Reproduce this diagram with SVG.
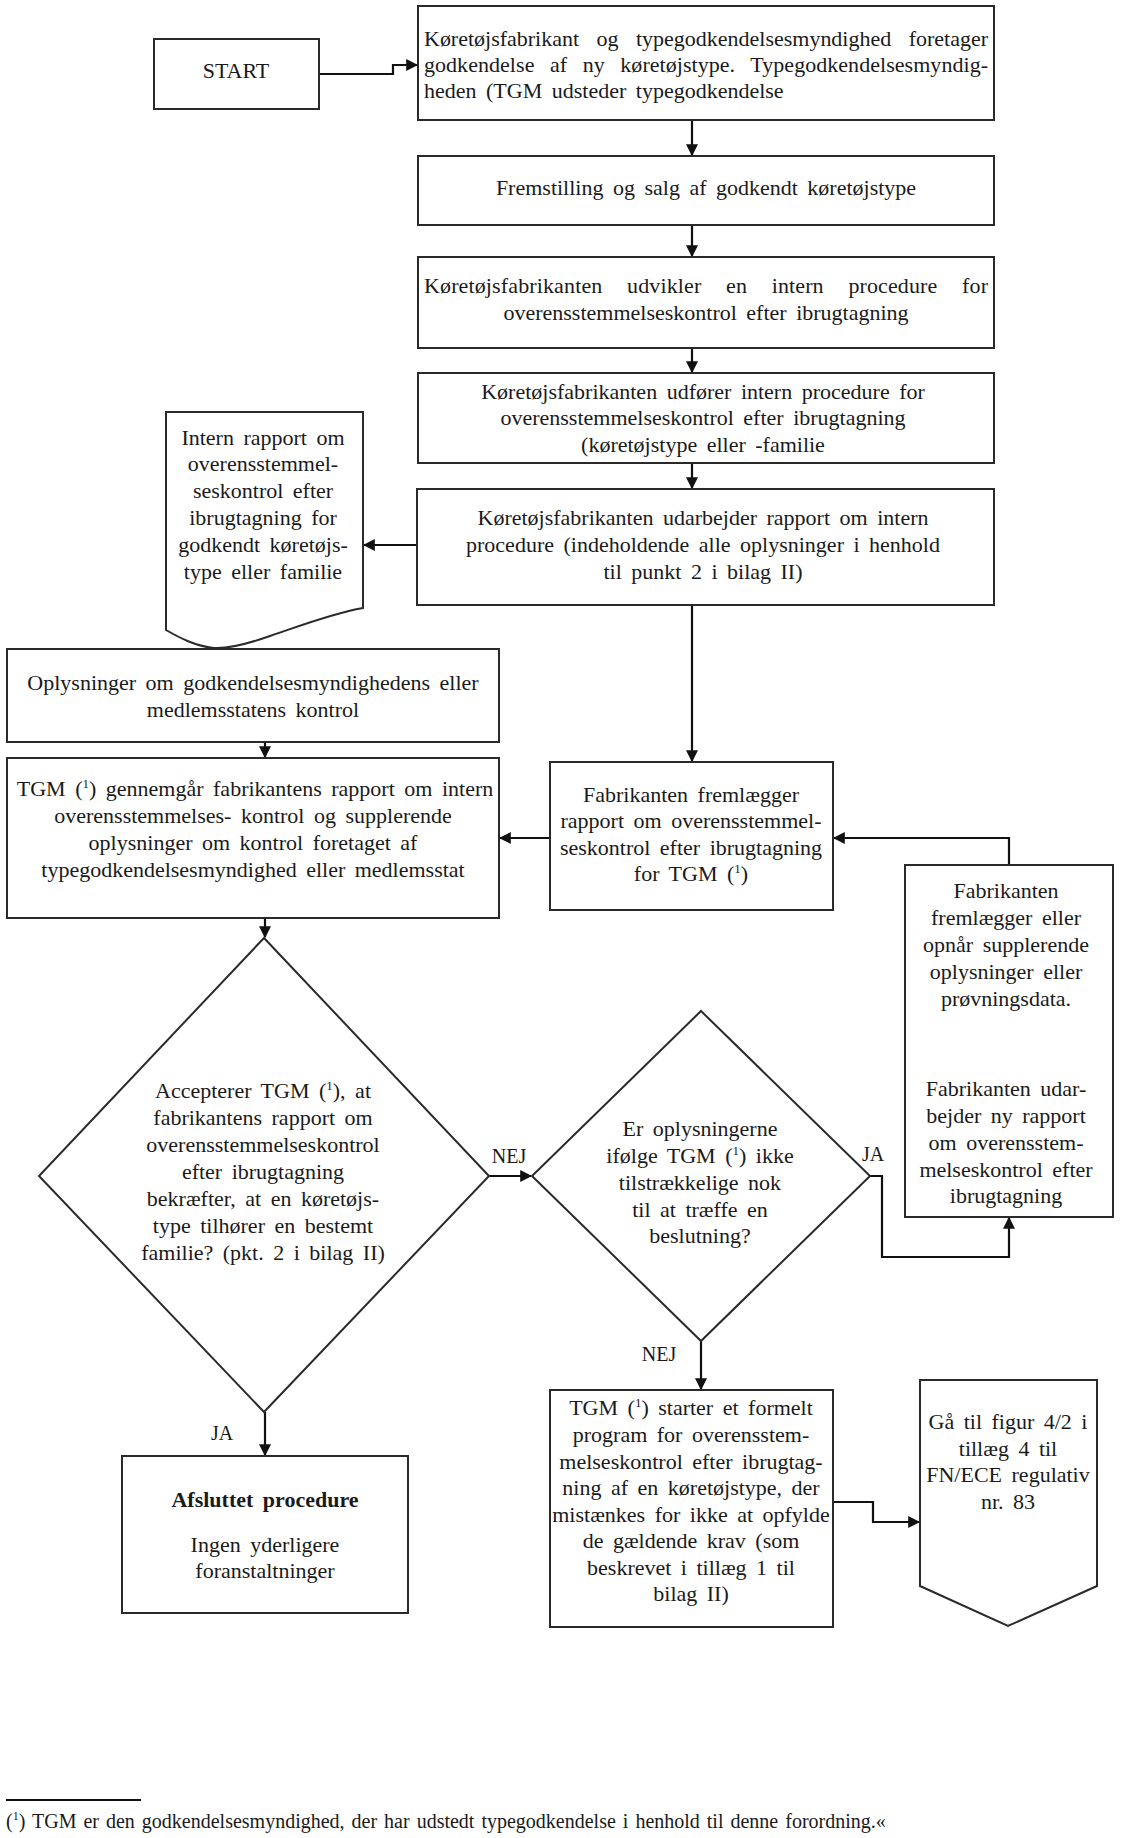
<svg xmlns="http://www.w3.org/2000/svg" width="1123" height="1838" viewBox="0 0 1123 1838">
<style>
  .box { fill: #ffffff; stroke: #2a2a2a; stroke-width: 2; }
  .t { font-family: "Liberation Serif", "Times New Roman", serif; font-size: 22px; fill: #1a1a1a; word-spacing: 4px; }
  .c { text-anchor: middle; }
  .lbl { font-family: "Liberation Serif", "Times New Roman", serif; font-size: 20px; fill: #1a1a1a; text-anchor: middle; }
  .b { font-weight: bold; }
  .conn { fill: none; stroke: #111; stroke-width: 2.2; marker-end: url(#ah); }
  .sup { font-size: 13px; }
</style>
<defs>
  <marker id="ah" viewBox="0 0 10 10" refX="9" refY="5" markerWidth="12" markerHeight="12" markerUnits="userSpaceOnUse" orient="auto">
    <path d="M0,0 L10,5 L0,10 z" fill="#111"/>
  </marker>
</defs>
<rect width="1123" height="1838" fill="#ffffff"/>

<g id="connectors">
  <path class="conn" d="M319,74 H393 V65 H417"/>
  <path class="conn" d="M692,120 V155"/>
  <path class="conn" d="M692,225 V256"/>
  <path class="conn" d="M692,348 V372"/>
  <path class="conn" d="M692,463 V488"/>
  <path class="conn" d="M417,545 H364"/>
  <path class="conn" d="M692,605 V761"/>
  <path class="conn" d="M550,838 H500"/>
  <path class="conn" d="M265,742 V757"/>
  <path class="conn" d="M1009,864 V838 H834"/>
  <path class="conn" d="M265,918 V937"/>
  <path class="conn" d="M489,1176 H531"/>
  <path class="conn" d="M870,1176 H882 V1257 H1009 V1218"/>
  <path class="conn" d="M701,1341 V1389"/>
  <path class="conn" d="M265,1412 V1455"/>
  <path class="conn" d="M833,1502 H873 V1522 H919"/>
</g>

<g id="start">
  <rect class="box" x="154" y="39" width="165" height="70"/>
  <text class="t c" x="236" y="78">START</text>
</g>

<g id="approval">
  <rect class="box" x="418" y="6" width="576" height="114"/>
  <text class="t" style="word-spacing:12px" x="424" y="46" textLength="564" lengthAdjust="spacing">Køretøjsfabrikant og typegodkendelsesmyndighed foretager</text>
  <text class="t" style="word-spacing:10px" x="424" y="72" textLength="564" lengthAdjust="spacing">godkendelse af ny køretøjstype. Typegodkendelsesmyndig-</text>
  <text class="t" x="424" y="98">heden (TGM udsteder typegodkendelse</text>
</g>

<g id="production">
  <rect class="box" x="418" y="156" width="576" height="69"/>
  <text class="t c" x="706" y="195">Fremstilling og salg af godkendt køretøjstype</text>
</g>

<g id="develop">
  <rect class="box" x="418" y="257" width="576" height="91"/>
  <text class="t" style="word-spacing:19px" x="424" y="293" textLength="564" lengthAdjust="spacing">Køretøjsfabrikanten udvikler en intern procedure for</text>
  <text class="t c" x="706" y="320">overensstemmelseskontrol efter ibrugtagning</text>
</g>

<g id="perform">
  <rect class="box" x="418" y="373" width="576" height="90"/>
  <text class="t c" x="703" y="399">Køretøjsfabrikanten udfører intern procedure for</text>
  <text class="t c" x="703" y="425">overensstemmelseskontrol efter ibrugtagning</text>
  <text class="t c" x="703" y="452">(køretøjstype eller -familie</text>
</g>

<g id="report">
  <rect class="box" x="417" y="489" width="577" height="116"/>
  <text class="t c" x="703" y="525">Køretøjsfabrikanten udarbejder rapport om intern</text>
  <text class="t c" x="703" y="552">procedure (indeholdende alle oplysninger i henhold</text>
  <text class="t c" x="703" y="579">til punkt 2 i bilag II)</text>
</g>

<g id="internal-report">
  <path class="box" d="M166,412 H363 V608 C330,614 300,626 270,636 C250,643 230,649 214,648 C195,646 180,638 166,630 Z"/>
  <text class="t c" x="263" y="445">Intern rapport om</text>
  <text class="t c" x="263" y="471">overensstemmel-</text>
  <text class="t c" x="263" y="498">seskontrol efter</text>
  <text class="t c" x="263" y="525">ibrugtagning for</text>
  <text class="t c" x="263" y="552">godkendt køretøjs-</text>
  <text class="t c" x="263" y="579">type eller familie</text>
</g>

<g id="info">
  <rect class="box" x="7" y="649" width="492" height="93"/>
  <text class="t c" x="253" y="690">Oplysninger om godkendelsesmyndighedens eller</text>
  <text class="t c" x="253" y="717">medlemsstatens kontrol</text>
</g>

<g id="review">
  <rect class="box" x="7" y="758" width="492" height="160"/>
  <text class="t c" x="255" y="796">TGM (<tspan class="sup" dy="-8">1</tspan><tspan dy="8">) gennemgår fabrikantens rapport om intern</tspan></text>
  <text class="t c" x="253" y="823">overensstemmelses- kontrol og supplerende</text>
  <text class="t c" x="253" y="850">oplysninger om kontrol foretaget af</text>
  <text class="t c" x="253" y="877">typegodkendelsesmyndighed eller medlemsstat</text>
</g>

<g id="submit">
  <rect class="box" x="550" y="762" width="283" height="148"/>
  <text class="t c" x="691" y="802">Fabrikanten fremlægger</text>
  <text class="t c" x="691" y="828">rapport om overensstemmel-</text>
  <text class="t c" x="691" y="855">seskontrol efter ibrugtagning</text>
  <text class="t c" x="691" y="881">for TGM (<tspan class="sup" dy="-8">1</tspan><tspan dy="8">)</tspan></text>
</g>

<g id="supplement">
  <rect class="box" x="905" y="865" width="208" height="352"/>
  <text class="t c" x="1006" y="898">Fabrikanten</text>
  <text class="t c" x="1006" y="925">fremlægger eller</text>
  <text class="t c" x="1006" y="952">opnår supplerende</text>
  <text class="t c" x="1006" y="979">oplysninger eller</text>
  <text class="t c" x="1006" y="1006">prøvningsdata.</text>
  <text class="t c" x="1006" y="1096">Fabrikanten udar-</text>
  <text class="t c" x="1006" y="1123">bejder ny rapport</text>
  <text class="t c" x="1006" y="1150">om overensstem-</text>
  <text class="t c" x="1006" y="1177">melseskontrol efter</text>
  <text class="t c" x="1006" y="1203">ibrugtagning</text>
</g>

<g id="decision-accept">
  <path class="box" d="M264,938 L489,1176 L264,1412 L39,1176 Z"/>
  <text class="t c" x="263" y="1098">Accepterer TGM (<tspan class="sup" dy="-8">1</tspan><tspan dy="8">), at</tspan></text>
  <text class="t c" x="263" y="1125">fabrikantens rapport om</text>
  <text class="t c" x="263" y="1152">overensstemmelseskontrol</text>
  <text class="t c" x="263" y="1179">efter ibrugtagning</text>
  <text class="t c" x="263" y="1206">bekræfter, at en køretøjs-</text>
  <text class="t c" x="263" y="1233">type tilhører en bestemt</text>
  <text class="t c" x="263" y="1260">familie? (pkt. 2 i bilag II)</text>
</g>

<g id="decision-insufficient">
  <path class="box" d="M701,1011 L870,1176 L701,1341 L532,1176 Z"/>
  <text class="t c" x="700" y="1136">Er oplysningerne</text>
  <text class="t c" x="700" y="1163">ifølge TGM (<tspan class="sup" dy="-8">1</tspan><tspan dy="8">) ikke</tspan></text>
  <text class="t c" x="700" y="1190">tilstrækkelige nok</text>
  <text class="t c" x="700" y="1217">til at træffe en</text>
  <text class="t c" x="700" y="1243">beslutning?</text>
</g>

<g id="labels">
  <text class="lbl" x="509" y="1163">NEJ</text>
  <text class="lbl" x="873" y="1161">JA</text>
  <text class="lbl" x="659" y="1361">NEJ</text>
  <text class="lbl" x="222" y="1440">JA</text>
</g>

<g id="formal-program">
  <rect class="box" x="550" y="1390" width="283" height="237"/>
  <text class="t c" x="691" y="1415">TGM (<tspan class="sup" dy="-8">1</tspan><tspan dy="8">) starter et formelt</tspan></text>
  <text class="t c" x="691" y="1442">program for overensstem-</text>
  <text class="t c" x="691" y="1469">melseskontrol efter ibrugtag-</text>
  <text class="t c" x="691" y="1495">ning af en køretøjstype, der</text>
  <text class="t c" x="691" y="1522">mistænkes for ikke at opfylde</text>
  <text class="t c" x="691" y="1548">de gældende krav (som</text>
  <text class="t c" x="691" y="1575">beskrevet i tillæg 1 til</text>
  <text class="t c" x="691" y="1601">bilag II)</text>
</g>

<g id="goto">
  <path class="box" d="M920,1380 H1097 V1586 L1008,1626 L920,1586 Z"/>
  <text class="t c" x="1008" y="1429">Gå til figur 4/2 i</text>
  <text class="t c" x="1008" y="1456">tillæg 4 til</text>
  <text class="t c" x="1008" y="1482">FN/ECE regulativ</text>
  <text class="t c" x="1008" y="1509">nr. 83</text>
</g>

<g id="end">
  <rect class="box" x="122" y="1456" width="286" height="157"/>
  <text class="t c b" x="265" y="1507">Afsluttet procedure</text>
  <text class="t c" x="265" y="1552">Ingen yderligere</text>
  <text class="t c" x="265" y="1578">foranstaltninger</text>
</g>

<g id="footnote">
  <line x1="6" y1="1800" x2="141" y2="1800" stroke="#111" stroke-width="2"/>
  <text class="t" style="font-size:20px;word-spacing:2px" x="6" y="1828">(<tspan class="sup" style="font-size:12px" dy="-8">1</tspan><tspan dy="8">) TGM er den godkendelsesmyndighed, der har udstedt typegodkendelse i henhold til denne forordning.«</tspan></text>
</g>
</svg>
